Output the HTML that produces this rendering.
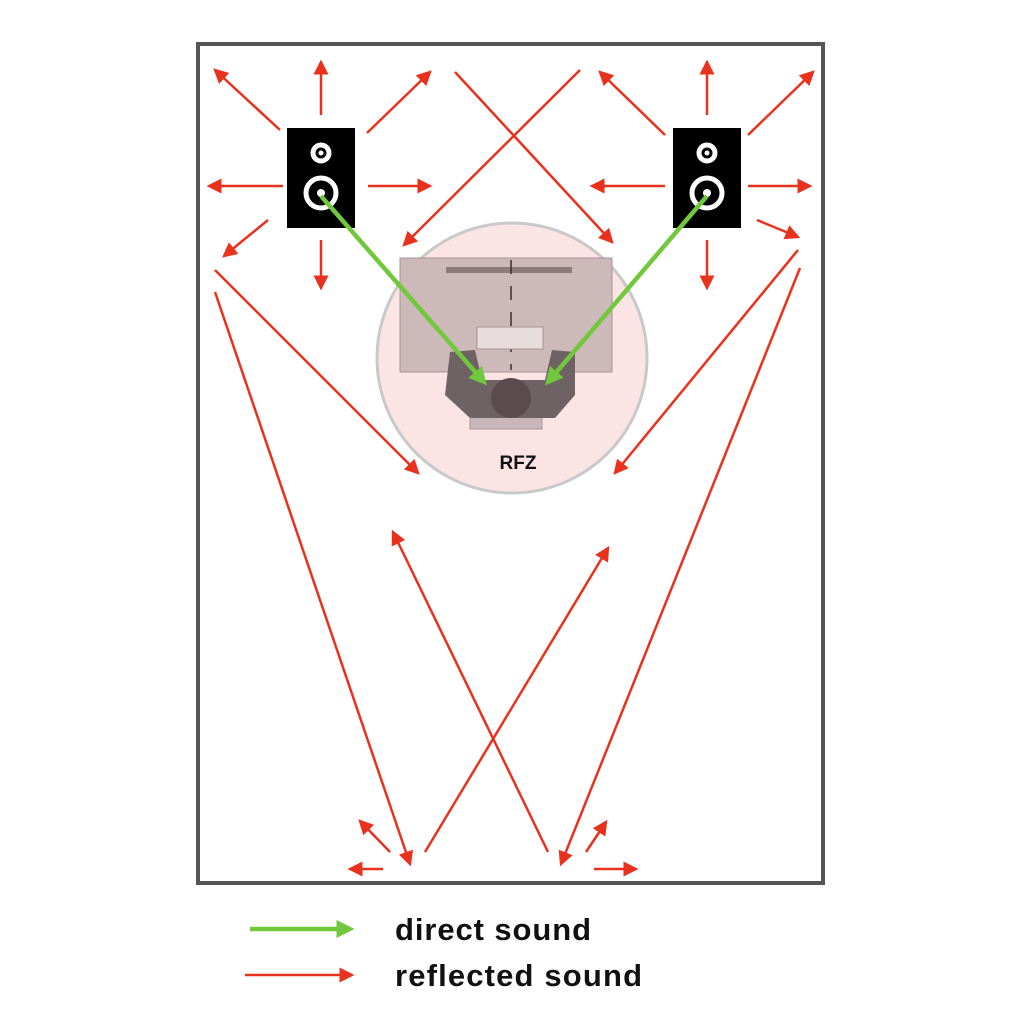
<!DOCTYPE html>
<html><head><style>html,body{margin:0;padding:0;background:#fff}</style></head><body>
<svg width="1024" height="1024" viewBox="0 0 1024 1024" xmlns="http://www.w3.org/2000/svg">
<defs>
<marker id="r" markerWidth="6" markerHeight="6" refX="5" refY="3" orient="auto" markerUnits="strokeWidth"><path d="M0,0 L6,3 L0,6 z" fill="#e8321e"/></marker>
<marker id="g" markerWidth="4" markerHeight="4" refX="3" refY="2" orient="auto" markerUnits="strokeWidth"><path d="M0,0 L4,2 L0,4 z" fill="#72c83c"/></marker>
</defs>
<rect x="198" y="44" width="625" height="839" fill="#fff" stroke="#555" stroke-width="4"/>
<circle cx="512" cy="358" r="135" fill="#fbe4e4" stroke="#c9c9c9" stroke-width="3"/>
<rect x="400" y="258" width="212" height="114" fill="#cdb8ba" stroke="#a89597"/>
<rect x="446" y="267" width="126" height="6" fill="#8e7a7c"/>
<line x1="511" y1="260" x2="511" y2="370" stroke="#333" stroke-width="1.5" stroke-dasharray="14,12"/>
<rect x="477" y="327" width="66" height="22" fill="#e8dcdc" stroke="#a89597"/>
<rect x="470" y="405" width="72" height="24" fill="#c9b6b8" stroke="#a89597"/>
<path d="M450,352 L475,350 L482,380 L545,380 L552,350 L575,352 L575,395 L555,418 L470,418 L445,395 z" fill="#6e6264"/>
<circle cx="511" cy="398" r="20" fill="#5a4c4e"/>
<text x="518" y="469" font-family="Liberation Sans, sans-serif" font-weight="bold" font-size="19" text-anchor="middle" fill="#111">RFZ</text>
<g fill="#000"><rect x="287" y="128" width="68" height="100"/><rect x="673" y="128" width="68" height="100"/></g>
<g fill="none" stroke="#fff" stroke-width="5">
<circle cx="321" cy="153" r="8"/><circle cx="321" cy="193" r="15"/>
<circle cx="707" cy="153" r="8"/><circle cx="707" cy="193" r="15"/></g>
<g fill="#fff"><circle cx="321" cy="153" r="2.5"/><circle cx="321" cy="193" r="4"/><circle cx="707" cy="153" r="2.5"/><circle cx="707" cy="193" r="4"/></g>
<g stroke="#e8321e" stroke-width="2.5" marker-end="url(#r)">
<line x1="280" y1="130" x2="215" y2="70"/>
<line x1="321" y1="115" x2="321" y2="62"/>
<line x1="367" y1="133" x2="430" y2="72"/>
<line x1="283" y1="186" x2="209" y2="186"/>
<line x1="368" y1="186" x2="430" y2="186"/>
<line x1="268" y1="220" x2="224" y2="256"/>
<line x1="321" y1="240" x2="321" y2="288"/>
<line x1="665" y1="135" x2="600" y2="72"/>
<line x1="707" y1="115" x2="707" y2="62"/>
<line x1="748" y1="135" x2="813" y2="72"/>
<line x1="665" y1="186" x2="592" y2="186"/>
<line x1="748" y1="186" x2="810" y2="186"/>
<line x1="757" y1="220" x2="798" y2="237"/>
<line x1="707" y1="240" x2="707" y2="288"/>
<line x1="455" y1="72" x2="612" y2="242"/>
<line x1="580" y1="70" x2="404" y2="245"/>
<line x1="215" y1="270" x2="418" y2="473"/>
<line x1="798" y1="250" x2="615" y2="473"/>
<line x1="215" y1="292" x2="410" y2="864"/>
<line x1="800" y1="268" x2="561" y2="864"/>
<line x1="425" y1="852" x2="608" y2="548"/>
<line x1="548" y1="852" x2="393" y2="532"/>
<line x1="390" y1="852" x2="360" y2="821"/>
<line x1="383" y1="869" x2="350" y2="869"/>
<line x1="586" y1="852" x2="606" y2="822"/>
<line x1="594" y1="869" x2="636" y2="869"/>
<line x1="245" y1="975" x2="352" y2="975"/>
</g>
<g stroke="#72c83c" stroke-width="4.5" marker-end="url(#g)">
<line x1="321" y1="196" x2="484" y2="382"/>
<line x1="707" y1="196" x2="548" y2="382"/>
<line x1="250" y1="929" x2="350" y2="929"/>
</g>
<g font-family="Liberation Sans, sans-serif" font-weight="bold" font-size="31" fill="#111">
<text x="395" y="940" textLength="196" lengthAdjust="spacing">direct sound</text>
<text x="395" y="986" textLength="247" lengthAdjust="spacing">reflected sound</text>
</g>
</svg>
</body></html>
